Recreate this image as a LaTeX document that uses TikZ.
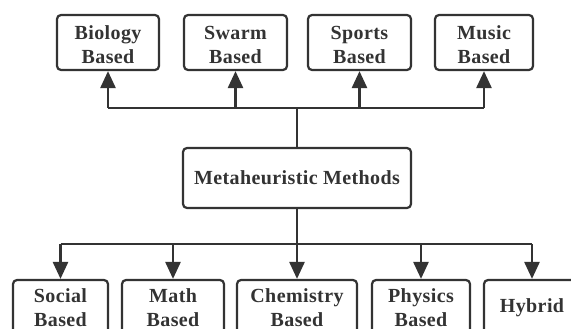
\documentclass[tikz,border=0pt]{standalone}
\usepackage{fontspec}
\setmainfont{Liberation Serif}[LetterSpace=2]
\usetikzlibrary{arrows.meta}
\definecolor{ink}{HTML}{333333}
\newcommand\mytopstrut{\rule{0pt}{19pt}}
\begin{document}
\begin{tikzpicture}[x=1pt,y=-1pt,
  box/.style={draw=ink, line width=2.2pt, rounded corners=4pt, fill=white,
    inner sep=0pt, align=center, text=ink,
    font=\fontsize{20}{24}\selectfont\bfseries},
  conn/.style={draw=ink, line width=2.6pt},
  arr/.style={conn, -{Triangle[length=17pt,width=15pt]}}]
\useasboundingbox (0,0) rectangle (571,329);
% top row
\node[box, minimum width=102pt, minimum height=55pt] (bio) at (108,42.5) {\mytopstrut Biology\\Based};
\node[box, minimum width=103pt, minimum height=55pt] (swarm) at (235.5,42.5) {\mytopstrut Swarm\\Based};
\node[box, minimum width=103pt, minimum height=55pt] (sports) at (359.5,42.5) {\mytopstrut Sports\\Based};
\node[box, minimum width=98pt, minimum height=55pt] (music) at (484,42.5) {\mytopstrut Music\\Based};
% centre
\node[box, minimum width=228pt, minimum height=60pt] (meta) at (297,178) {Metaheuristic Methods};
% bottom row
\node[box, minimum width=95pt, minimum height=56pt] (social) at (60.5,308) {Social\\Based};
\node[box, minimum width=102pt, minimum height=56pt] (math) at (173,308) {Math\\Based};
\node[box, minimum width=120pt, minimum height=56pt] (chem) at (297,308) {Chemistry\\Based};
\node[box, minimum width=98pt, minimum height=56pt] (phys) at (421,308) {Physics\\Based};
\node[box, minimum width=96pt, minimum height=56pt] (hyb) at (532,308) {Hybrid};
% connectors
\coordinate (hubT) at (297,108);
\coordinate (hubB) at (297,244);
\draw[conn] (meta.north) -- (hubT);
\draw[conn] (hubT -| bio.south) -- (hubT -| music.south);
\foreach \n in {bio,swarm,sports,music}
  \draw[arr] (hubT -| \n.south) -- (\n.south);
\draw[conn] (meta.south) -- (hubB);
\draw[conn] (hubB -| social.north) -- (hubB -| hyb.north);
\foreach \n in {social,math,chem,phys,hyb}
  \draw[arr] (hubB -| \n.north) -- (\n.north);
\end{tikzpicture}
\end{document}
